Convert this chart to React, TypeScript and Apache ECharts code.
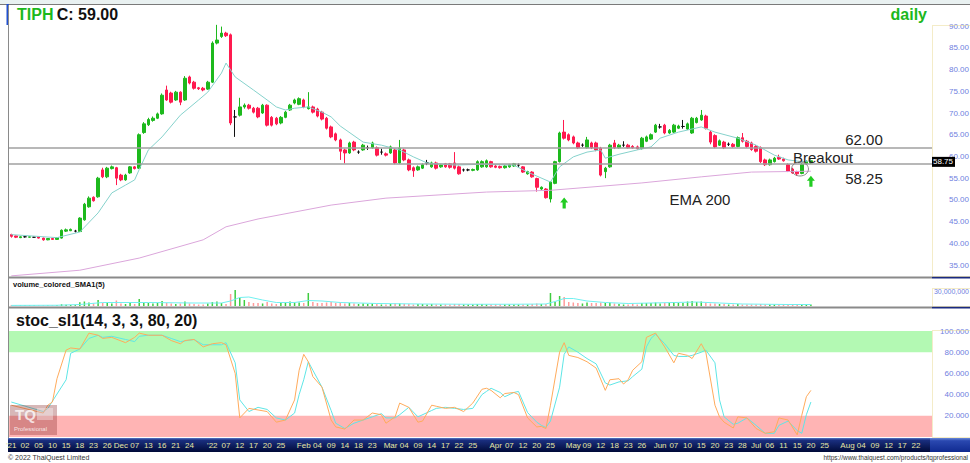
import React, { useEffect, useRef } from 'react';
import * as echarts from 'echarts';

// ---------- DATA ----------
const SLOTS = 202; // trading-day slots on the x axis (data + future space)

// [open, close, low, high]
const candles: number[][] = [
  [42.0,41.6,41.3,42.2],[41.7,41.4,41.2,41.8],[41.3,41.5,41.2,41.6],[41.5,41.5,41.3,41.6],[41.4,41.5,41.3,41.6],
  [41.4,41.4,41.3,41.5],[41.5,41.2,41.1,41.6],[41.2,40.8,40.6,41.3],[40.8,41.1,40.7,41.2],[41.1,40.9,40.8,41.2],
  [40.9,41.3,40.8,41.4],[41.2,43.0,41.1,43.2],[42.8,43.1,42.6,43.4],[42.9,43.2,42.8,43.4],[42.8,42.8,42.5,43.1],
  [42.7,45.8,42.6,46.0],[45.4,49.0,45.2,49.3],[48.4,50.4,48.2,50.8],[50.6,49.8,49.6,50.8],[50.7,55.0,50.5,55.3],
  [56.9,55.3,55.0,57.4],[55.3,57.3,55.0,57.6],[57.2,57.6,57.0,57.9],[57.4,55.0,53.4,57.6],[55.7,54.6,54.3,56.0],
  [54.6,55.7,54.4,56.0],[56.2,57.6,56.0,57.8],[57.6,57.2,57.0,57.8],[57.3,65.0,57.1,65.3],[65.5,67.5,65.2,67.9],
  [67.3,68.5,67.0,68.9],[68.3,68.8,68.0,69.2],[68.8,69.8,68.6,70.1],[69.8,74.1,69.6,74.5],[75.3,73.0,72.8,76.3],
  [74.6,72.5,72.2,74.9],[73.0,74.8,72.8,75.1],[74.8,72.5,71.8,75.0],[73.0,78.0,72.8,78.5],[78.3,76.9,76.6,78.6],
  [77.1,75.7,75.4,77.4],[75.8,75.6,75.3,76.0],[75.7,75.3,75.0,76.0],[75.5,77.1,75.3,77.4],[77.1,86.1,76.9,86.5],
  [86.1,86.8,85.8,90.3],[87.6,88.4,87.3,89.9],[88.4,87.8,87.5,88.7],[88.0,67.7,67.2,88.3],[69.1,69.1,64.5,70.7],
  [69.5,71.4,69.2,73.5],[71.4,71.8,71.0,72.2],[71.8,71.1,70.8,72.1],[71.1,70.2,69.9,71.4],[71.1,69.1,68.8,71.4],
  [70.0,71.8,69.8,72.1],[71.8,67.2,66.9,72.0],[69.0,67.2,66.9,69.3],[68.8,67.5,67.2,69.1],[67.7,69.0,67.4,69.3],
  [69.0,70.2,68.8,70.5],[70.7,71.8,70.5,72.1],[72.3,73.0,72.0,73.3],[72.0,73.3,71.8,73.6],[73.0,71.4,71.1,73.3],
  [71.0,71.4,70.8,74.8],[71.4,70.2,69.9,71.7],[70.9,69.3,69.0,71.2],[70.2,68.6,68.3,70.5],[68.8,66.5,66.2,69.1],
  [66.8,64.5,64.2,67.1],[65.2,63.8,63.5,65.5],[63.8,61.2,59.2,64.1],[61.5,60.8,58.4,61.8],[60.8,63.1,60.6,63.4],
  [63.3,61.5,61.2,63.6],[61.0,61.0,60.6,61.4],[61.5,62.6,61.3,62.9],[62.0,62.0,61.5,62.5],[62.0,63.1,61.8,63.4],
  [62.0,60.3,60.0,62.3],[61.0,61.0,60.4,61.8],[60.6,60.3,60.0,60.9],[60.8,62.2,60.6,62.5],[61.5,58.5,58.2,61.8],
  [58.5,61.9,58.3,63.8],[61.5,59.2,58.9,61.8],[59.2,56.9,56.6,59.5],[57.4,56.7,55.3,57.7],[56.9,57.6,56.7,57.9],
  [57.3,58.1,57.1,58.4],[58.5,58.5,58.0,59.2],[57.6,58.5,57.4,58.8],[58.5,57.3,57.0,58.8],[57.6,58.0,57.4,58.3],
  [58.3,57.6,57.4,58.5],[58.3,57.5,57.2,58.5],[58.5,57.3,57.0,61.0],[57.6,56.0,55.8,57.9],[56.9,56.9,56.5,57.2],
  [56.9,56.9,56.6,57.2],[56.8,57.0,56.6,57.2],[56.9,58.8,56.7,59.1],[57.6,58.8,57.4,59.1],[57.6,59.0,57.4,59.3],
  [58.8,57.6,57.4,59.0],[57.8,57.5,57.3,58.0],[57.7,57.4,57.2,57.9],[57.4,57.8,57.2,58.0],[57.6,58.1,57.4,58.3],
  [57.8,58.3,57.6,58.5],[58.0,58.0,57.6,58.4],[57.6,56.4,56.2,57.8],[56.0,56.5,55.8,56.7],[56.4,55.3,55.1,56.6],
  [54.9,52.9,51.9,55.1],[52.5,52.9,52.3,53.1],[52.5,50.5,50.3,52.7],[50.2,54.1,49.4,54.3],[53.8,58.8,53.6,59.0],
  [58.8,65.4,58.6,65.7],[65.6,64.2,63.9,68.4],[65.0,63.8,63.5,65.3],[64.5,63.1,62.8,64.8],[63.1,62.0,61.7,63.4],
  [62.6,62.6,62.2,63.0],[62.0,63.8,61.8,64.5],[63.1,62.0,61.7,63.4],[63.1,61.5,61.2,63.4],[61.9,55.7,55.4,62.2],
  [56.5,57.3,55.0,57.6],[57.6,62.6,57.4,62.9],[63.1,62.0,61.7,63.8],[62.0,62.6,61.8,62.9],[62.6,62.6,62.2,63.5],
  [62.6,62.0,61.8,62.9],[62.3,62.0,61.8,62.6],[62.2,61.8,61.6,62.5],[61.8,64.2,61.6,64.5],[63.5,64.5,63.3,64.8],
  [64.0,65.0,63.8,65.3],[65.6,67.2,65.4,67.5],[66.8,66.8,66.4,67.5],[67.2,65.4,65.1,67.5],[65.4,66.0,65.2,66.3],
  [65.6,67.2,65.4,67.5],[66.5,67.0,66.3,67.3],[66.9,66.9,66.4,68.4],[66.3,67.5,66.1,67.8],[65.4,68.8,65.2,69.1],
  [67.8,68.8,67.6,69.1],[68.4,69.5,68.2,70.7],[69.3,66.5,66.2,69.6],[65.6,63.3,62.8,65.9],[64.8,62.2,61.9,65.1],
  [62.6,63.6,62.4,63.9],[63.3,62.0,61.7,63.6],[62.8,62.8,62.4,63.2],[62.8,62.3,62.0,63.1],[62.3,64.3,62.1,64.6],
  [64.3,63.5,63.2,65.4],[63.5,62.3,62.0,63.8],[63.1,61.6,61.3,63.4],[62.3,61.2,60.9,62.6],[62.0,58.8,58.5,62.3],
  [59.2,58.1,57.8,59.5],[58.1,59.2,57.9,59.5],[58.8,59.6,58.6,59.9],[59.8,59.4,59.2,60.4],[59.4,59.0,58.8,59.7],
  [58.1,56.6,56.4,58.4],[57.1,56.2,56.0,57.4],[56.5,56.0,55.5,56.7],[56.1,58.2,55.9,58.5],[58.3,58.8,58.1,59.1],
  [58.5,59.0,58.3,59.3],
];

// volume in millions of shares
const volumes: number[] = [
  1.5,1.2,1.0,0.8,1.0,0.9,1.1,1.3,1.0,1.2,1.4,3.5,2.5,2.0,1.8,7.5,9,7,5,12,
  6,8,5,11,5,4,6,4,14,8,6,5,6,10,6,5,4,5,9,5,
  4,3,3,5,8,9,6,4,24,32,16,12,8,6,6,5,8,5,4,6,
  6,9,7,7,6,26,8,6,6,7,8,6,7,5,6,5,4,5,4,5,
  4,3,3,4,5,5,4,4,3,4,4,3,4,3,3,3,3,4,4,3,
  3,3,4,4,3,3,3,3,3,3,3,3,3,3,4,5,4,4,26,8,
  20,18,8,7,6,5,7,6,6,7,6,7,5,4,3,3,4,3,6,6,
  6,7,5,6,6,8,6,6,9,10,8,9,6,5,5,4,4,3,3,4,
  3,3,3,3,4,3,3,3,2.5,2.5,3,3,3,4,3,3,
];

// [slot index, value] readings
const volSma: number[][] = [
  [0,1.2],[10,1.5],[15,3],[20,7],[30,7],[40,6],[46,6],[48,10],[50,17],[52,18],[55,12],[58,7],
  [62,7],[65,11],[68,10],[72,7],[80,5],[90,4],[100,3.5],[110,3.5],[117,4],[119,9],[121,15],
  [123,15],[126,10],[130,7],[135,5],[140,6],[145,7],[150,8],[155,6],[160,4],[165,3.5],[170,3],[175,3],
];

const emaShort: number[][] = [
  [0,42.0],[10,41.3],[15,42.6],[19,47.0],[22,51.6],[25,53.4],[27,54.6],[28,57.0],[30,61.5],[33,64.5],
  [37,69.5],[41,73.0],[43,74.8],[46,79.2],[47,81.5],[49,78.3],[53,75.3],[56,73.0],[58,71.4],[60,70.7],
  [62,71.1],[65,71.4],[68,70.2],[70,69.1],[72,67.0],[77,63.3],[81,62.6],[85,61.5],[88,59.9],[91,58.5],
  [97,58.0],[103,58.2],[110,58.0],[113,56.4],[118,54.1],[120,57.6],[123,59.9],[126,61.0],[129,61.5],
  [130,59.6],[133,60.5],[137,61.5],[140,62.2],[142,64.2],[146,65.6],[151,66.8],[154,65.6],[159,64.2],
  [163,62.6],[167,60.3],[170,59.2],[173,58.8],[175,59.0],
];

const ema200: number[][] = [
  [0,32.5],[15,33.8],[28,36.6],[42,40.8],[47,43.8],[54,45.6],[70,48.8],[82,50.4],[104,51.8],
  [118,52.2],[138,53.9],[151,55.3],[162,56.4],[175,56.6],
];

const stochK: number[][] = [
  [0,30],[7,22.6],[8,30],[9,33],[10,55],[12,82],[13,84],[15,83],[17,98],[19,96],[20,93],[22,94],
  [25,89],[27,94],[28,98],[30,96],[33,96],[35,91],[37,88],[38,91],[40,92],[42,85],[44,88],[46,89],
  [47,87],[49,60],[50,18],[52,27],[54,25.5],[56,24],[58,14],[60,16],[62,35],[63,63],[64,78],[65,71],
  [66,57],[68,47],[70,16],[71,9.5],[73,7.5],[75,16],[77,16],[79,22.6],[81,21],[82,13],[84,19],[85,32],
  [87,28],[89,14],[90,15],[92,30],[93,29],[95,27],[97,28],[99,24],[101,32],[103,45],[104,46],[105,44],
  [107,37],[108,41],[110,42],[111,40],[113,18],[115,9.5],[116,10],[117,8],[118,30],[120,80],[121,89],
  [122,77],[124,75],[126,71],[128,65],[130,44],[131,54],[133,55],[134,50],[135,54],[136,63],[138,71],
  [139,94],[140,96],[141,98],[143,85],[145,70],[146,79],[148,77],[149,74],[151,88],[152,80],[154,30],
  [155,19],[156,14],[158,8.5],[159,19],[161,18],[163,8],[165,3.5],[167,5],[168,18],[170,16],[172,2],
  [173,20.5],[174,38],[175,44],
];

const stochD: number[][] = [
  [0,33],[7,24],[8,27],[12,54],[13,79],[15,83],[17,93],[19,96],[20,94],[22,95],[25,92],[27,90],[28,95],
  [30,96],[33,96],[35,93],[37,90],[40,92],[42,87],[44,87],[46,87],[47,89],[49,70],[50,35],[52,24],
  [54,28],[56,26],[58,18],[60,16],[62,22.6],[63,40],[64,54],[65,71],[66,63],[68,47],[70,25],[71,13],
  [73,8],[75,13],[77,16],[79,19],[81,22],[82,18],[84,18],[85,21],[87,28],[89,19],[92,25],[93,27],
  [95,28],[97,27],[99,26],[101,27],[103,40],[104,43],[105,46],[107,42],[108,38],[110,42],[111,43],
  [113,23],[115,14],[116,11],[117,9],[118,15],[120,47],[121,78],[122,85],[124,80],[126,74],[128,69],
  [130,51],[131,49],[133,52],[135,53],[136,57],[138,64],[139,85],[140,93],[141,97],[143,88],[145,77],
  [146,76],[148,76],[149,77],[151,80],[152,82],[154,70],[155,35],[156,19],[158,12],[159,13],[161,18],
  [163,11],[165,3.5],[167,3.5],[168,11],[170,15],[172,6],[173,3.5],[174,21],[175,33],
];

const tickIdx: number[] = [
  0,3,6,9,12,15,18,21,24,27,30,33,36,39,44,47,50,53,56,59,64,67,70,73,76,79,
  83,86,89,92,95,98,101,106,109,112,115,118,123,126,129,132,135,138,142,145,148,151,154,157,160,
  163,166,169,172,175,178,183,186,189,192,195,198,
];
const tickText: string[] = [
  "'21","02","05","10","15","18","23","26","Dec","07","13","16","21","24","'22","07","12","17","20","25",
  "Feb","04","09","14","18","23","Mar","04","09","14","17","22","25","Apr","07","12","20","25",
  "May","09","12","18","23","26","Jun","07","10","15","20","23","28","Jul","06","11","15","20","25",
  "Aug","04","09","12","17","22",
];

const priceTicks = [35, 40, 45, 50, 55, 60, 65, 70, 75, 80, 85, 90];
const volTicks = [30];
const stochTicks = [20, 40, 60, 80, 100];
const levels = [62, 58.25];
const arrowPoints: number[][] = [[121, 49.3], [175, 54.3]];
const lastPrice = 58.75;

// ---------- STYLE ----------
const FONT = 'Liberation Sans, Arial, sans-serif';
const UP = '#1db91d';
const DOWN = '#ff1a4f';
const AXIS_TXT = '#6f80e0';
const GL = 9, GW = 923;

function buildOption(): any {
  const cats = Array.from({ length: SLOTS }, (_, i) => 'd' + i);
  const labelMap: Record<number, string> = {};
  tickIdx.forEach((k, i) => { labelMap[k] = tickText[i]; });
  const tickSet = new Set(tickIdx);

  const xAxisBase = (i: number) => ({
    type: 'category', gridIndex: i, data: cats, boundaryGap: true,
    axisLine: { show: false }, axisTick: { show: false }, splitLine: { show: false },
    axisLabel: i === 2 ? {
      show: true, interval: (idx: number) => tickSet.has(idx),
      formatter: (_v: string, idx: number) => labelMap[idx] || '',
      color: '#e6e6a6', fontSize: 8, fontFamily: FONT, margin: 4,
    } : { show: false },
  });

  const yBase = {
    position: 'right', axisLine: { show: false }, axisTick: { show: false }, splitLine: { show: false },
  };

  const volData = volumes.map((v, i) => ({
    value: v,
    itemStyle: { color: candles[i][1] >= candles[i][0] ? '#3fcc3f' : '#ff9a9a' },
  }));

  const priceLabelY = (v: number) => 5 + (94.87 - v) / (94.87 - 32.47) * 271;

  const g: any[] = [
    { type: 'rect', z: -5, shape: { x: 0, y: 0, width: 970, height: 4 }, style: { fill: '#e9f1f1' } },
    { type: 'line', z: 50, shape: { x1: 0, y1: 4.5, x2: 970, y2: 4.5 }, style: { stroke: '#7a7a7a', lineWidth: 1 } },
    { type: 'rect', z: 50, shape: { x: 6.5, y: 4, width: 2.5, height: 21 }, style: { fill: '#2050d0' } },
    { type: 'line', z: 50, shape: { x1: 8.5, y1: 5, x2: 8.5, y2: 438 }, style: { stroke: '#8a8a8a', lineWidth: 1 } },
    { type: 'rect', z: 50, shape: { x: 8, y: 276.5, width: 924, height: 2 }, style: { fill: '#8a8a8a' } },
    { type: 'rect', z: 50, shape: { x: 932, y: 276.5, width: 38, height: 2 }, style: { fill: '#1a2a80' } },
    { type: 'rect', z: 50, shape: { x: 8, y: 306.5, width: 924, height: 2 }, style: { fill: '#8a8a8a' } },
    { type: 'rect', z: 50, shape: { x: 932, y: 306.5, width: 38, height: 2 }, style: { fill: '#1a2a80' } },
    { type: 'rect', z: 50, shape: { x: 932.5, y: 25.5, width: 40, height: 251 }, style: { fill: 'none', stroke: '#e8d890', lineWidth: 1, lineDash: [1, 1] } },
    { type: 'rect', z: 50, shape: { x: 932.5, y: 288.5, width: 40, height: 18 }, style: { fill: 'none', stroke: '#e8d890', lineWidth: 1, lineDash: [1, 1] } },
    { type: 'rect', z: 50, shape: { x: 932.5, y: 330.5, width: 40, height: 107 }, style: { fill: 'none', stroke: '#e8d890', lineWidth: 1, lineDash: [1, 1] } },
    {
      type: 'rect', z: -5, shape: { x: 8, y: 438, width: 922, height: 14 },
      style: { fill: new echarts.graphic.LinearGradient(0, 0, 0, 1, [
        { offset: 0, color: '#5a78c8' }, { offset: 0.15, color: '#1a2f80' }, { offset: 1, color: '#000a38' },
      ]) },
    },
    {
      type: 'rect', z: -5, shape: { x: 930, y: 438, width: 40, height: 14 },
      style: { fill: new echarts.graphic.LinearGradient(0, 0, 0, 1, [
        { offset: 0, color: '#6a88d8' }, { offset: 0.2, color: '#2a48b0' }, { offset: 1, color: '#102a90' },
      ]) },
    },
    { type: 'rect', z: 60, shape: { x: 932, y: priceLabelY(lastPrice) - 5, width: 23, height: 10 }, style: { fill: '#000' } },
    { type: 'text', z: 61, x: 933, y: priceLabelY(lastPrice), style: { text: lastPrice.toFixed(2), fill: '#fff', font: `8px ${FONT}`, verticalAlign: 'middle' } },
    {
      type: 'text', z: 60, x: 17, y: 14,
      style: {
        text: '{g|TIPH} {b|C: 59.00}', verticalAlign: 'middle',
        rich: {
          g: { fill: '#1cb81c', font: `bold 16px ${FONT}` },
          b: { fill: '#111', font: `bold 16px ${FONT}` },
        },
      },
    },
    { type: 'text', z: 60, x: 927, y: 14, style: { text: 'daily', fill: '#1cb81c', font: `bold 16px ${FONT}`, align: 'right', verticalAlign: 'middle' } },
    { type: 'text', z: 60, x: 13, y: 284.5, style: { text: 'volume_colored_SMA1(5)', fill: '#111', font: `bold 7.5px ${FONT}`, verticalAlign: 'middle' } },
    { type: 'text', z: 60, x: 16, y: 320, style: { text: 'stoc_sl1(14, 3, 3, 80, 20)', fill: '#111', font: `bold 16px ${FONT}`, verticalAlign: 'middle' } },
    { type: 'text', z: 60, x: 864, y: 139.5, style: { text: '62.00', fill: '#222', font: `15px ${FONT}`, align: 'center', verticalAlign: 'middle' } },
    { type: 'text', z: 60, x: 864, y: 178.5, style: { text: '58.25', fill: '#222', font: `15px ${FONT}`, align: 'center', verticalAlign: 'middle' } },
    { type: 'text', z: 60, x: 823, y: 157, style: { text: 'Breakout', fill: '#222', font: `15px ${FONT}`, align: 'center', verticalAlign: 'middle' } },
    { type: 'text', z: 60, x: 700, y: 199, style: { text: 'EMA 200', fill: '#222', font: `15px ${FONT}`, align: 'center', verticalAlign: 'middle' } },
    { type: 'ellipse', z: 60, shape: { cx: 800, cy: 169, rx: 8.5, ry: 7 }, style: { fill: 'none', stroke: '#8a8a8a', lineWidth: 1 } },
    { type: 'rect', z: 40, shape: { x: 10, y: 405, width: 47, height: 30 }, style: { fill: 'rgba(140,50,50,0.35)' } },
    { type: 'text', z: 41, x: 15, y: 414, style: { text: 'TQ', fill: 'rgba(255,255,255,0.75)', font: `bold 15px ${FONT}`, verticalAlign: 'middle' } },
    { type: 'rect', z: 41, shape: { x: 37, y: 408, width: 16, height: 12 }, style: { fill: 'rgba(255,255,255,0.35)' } },
    { type: 'text', z: 41, x: 14, y: 429, style: { text: 'Professional', fill: 'rgba(255,255,255,0.8)', font: `6px ${FONT}`, verticalAlign: 'middle' } },
    { type: 'text', z: 60, x: 8, y: 457, style: { text: '© 2022 ThaiQuest Limited', fill: '#333', font: `7px ${FONT}`, verticalAlign: 'middle' } },
    { type: 'text', z: 60, x: 968, y: 457, style: { text: 'https://www.thaiquest.com/products/tqprofessional', fill: '#333', font: `6.5px ${FONT}`, align: 'right', verticalAlign: 'middle' } },
  ];

  const gridBase = { left: GL, width: GW, containLabel: false, outerBoundsMode: 'none' };

  return {
    animation: false,
    backgroundColor: '#ffffff',
    textStyle: { fontFamily: FONT },
    grid: [
      { ...gridBase, top: 5, height: 271 },
      { ...gridBase, top: 287, height: 19 },
      { ...gridBase, top: 331, height: 106 },
    ],
    xAxis: [xAxisBase(0), xAxisBase(1), xAxisBase(2)],
    yAxis: [
      {
        ...yBase, type: 'value', gridIndex: 0, min: 32.47, max: 94.87,
        axisLabel: {
          customValues: priceTicks, formatter: (v: number) => v.toFixed(2),
          color: AXIS_TXT, fontSize: 8, fontFamily: FONT, align: 'right', margin: 37,
        },
      },
      {
        ...yBase, type: 'value', gridIndex: 1, min: 0, max: 38,
        axisLabel: {
          customValues: volTicks, formatter: (v: number) => (v * 1e6).toLocaleString('en-US'),
          color: AXIS_TXT, fontSize: 7, fontFamily: FONT, align: 'right', margin: 37,
        },
      },
      {
        ...yBase, type: 'value', gridIndex: 2, min: 0, max: 100,
        axisLabel: {
          customValues: stochTicks, formatter: (v: number) => v.toFixed(3),
          color: AXIS_TXT, fontSize: 8, fontFamily: FONT, align: 'right', margin: 37,
        },
      },
    ],
    series: [
      {
        type: 'candlestick', xAxisIndex: 0, yAxisIndex: 0, data: candles, barWidth: 3,
        itemStyle: { color: UP, color0: DOWN, borderColor: UP, borderColor0: DOWN, borderColorDoji: '#111', borderWidth: 1 },
        markLine: {
          silent: true, symbol: ['none', 'none'], label: { show: false },
          lineStyle: { color: '#a0a0a0', width: 1.5, type: 'solid' },
          data: levels.map((v) => ({ yAxis: v })),
        },
        markPoint: {
          silent: true,
          symbol: 'path://M5,0 L10,5 L7,5 L7,11 L3,11 L3,5 L0,5 Z',
          symbolSize: [8, 11],
          itemStyle: { color: '#22cc22' },
          label: { show: false },
          data: arrowPoints.map((p) => ({ coord: p })),
        },
      },
      {
        type: 'line', xAxisIndex: 0, yAxisIndex: 0, data: emaShort, showSymbol: false, symbol: 'none',
        lineStyle: { color: '#86d2cc', width: 1 }, z: 3,
      },
      {
        type: 'line', xAxisIndex: 0, yAxisIndex: 0, data: ema200, showSymbol: false, symbol: 'none',
        lineStyle: { color: '#dba6db', width: 1 }, z: 3,
      },
      { type: 'bar', xAxisIndex: 1, yAxisIndex: 1, data: volData, barWidth: 1.5 },
      {
        type: 'line', xAxisIndex: 1, yAxisIndex: 1, data: volSma, showSymbol: false, symbol: 'none',
        lineStyle: { color: '#70f0f0', width: 1 },
      },
      {
        type: 'line', xAxisIndex: 2, yAxisIndex: 2, data: stochK, showSymbol: false, symbol: 'none',
        lineStyle: { color: '#ffab5c', width: 1 }, z: 4,
        markArea: {
          silent: true,
          data: [
            [{ yAxis: 80, itemStyle: { color: '#b3f9b3' } }, { yAxis: 100 }],
            [{ yAxis: 0, itemStyle: { color: '#ffb4b4' } }, { yAxis: 20 }],
          ],
        },
      },
      {
        type: 'line', xAxisIndex: 2, yAxisIndex: 2, data: stochD, showSymbol: false, symbol: 'none',
        lineStyle: { color: '#5ee6e6', width: 1 }, z: 3,
      },
    ],
    graphic: { elements: g },
  };
}

export default function App() {
  const ref = useRef<HTMLDivElement>(null);
  useEffect(() => {
    const chart = echarts.init(ref.current!, null, { renderer: 'svg' });
    chart.setOption(buildOption());
    return () => chart.dispose();
  }, []);
  return <div ref={ref} style={{ position: 'absolute', left: 0, top: 0, width: 970, height: 463 }} />;
}
